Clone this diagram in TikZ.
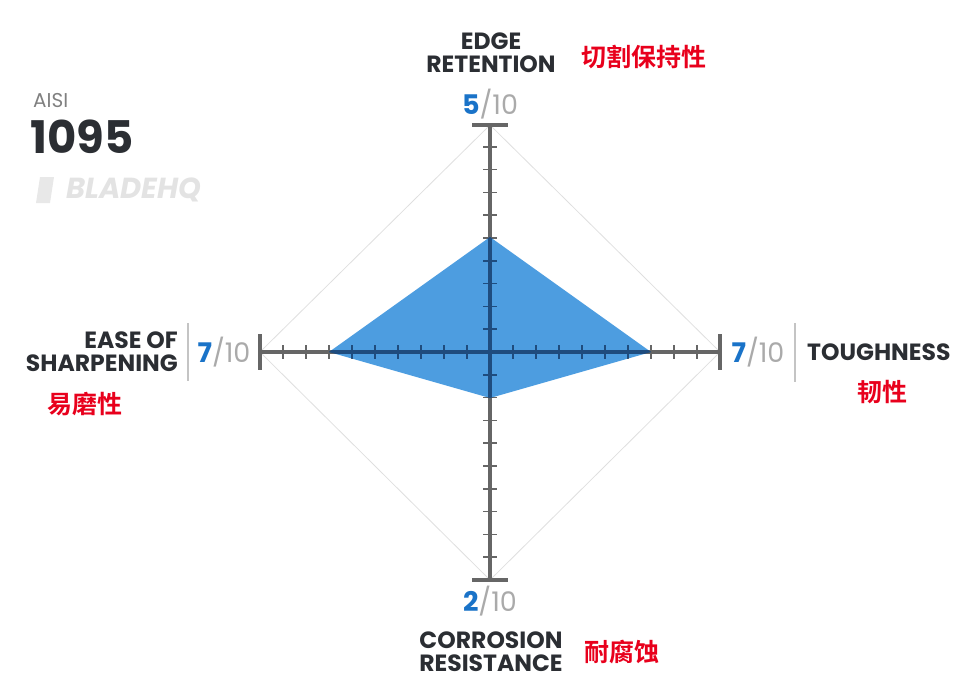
\documentclass[tikz,border=0pt]{standalone}
\usepackage{fontspec}
\setmainfont{Poppins}
\newfontfamily\cjk{Noto Sans CJK SC}[BoldFont={Noto Sans CJK SC Bold}]
\definecolor{txt}{HTML}{2B2E33}
\definecolor{axisc}{HTML}{666666}
\definecolor{fillc}{HTML}{4D9DE0}
\definecolor{inax}{HTML}{1F4C7E}
\definecolor{numb}{HTML}{1A73C8}
\definecolor{numg}{HTML}{AAAAAA}
\definecolor{redc}{HTML}{E8001C}
\begin{document}
\begin{tikzpicture}[x=1pt,y=-1pt,
  lab/.style={font=\bfseries\fontsize{23.5}{26}\selectfont,text=txt,align=center,inner sep=0},
  cn/.style={font=\cjk\bfseries\fontsize{25}{28}\selectfont,text=redc,inner sep=0},
  num/.style={font=\fontsize{27}{30}\selectfont,inner sep=0},
  ax/.style={line width=3.5pt,draw=axisc},
  tk/.style={line width=1.5pt,draw=axisc}]
\useasboundingbox (0,0) rectangle (972,694);
\coordinate (c) at (490,352);
\coordinate (t) at (490,125);
\coordinate (b) at (490,580);
\coordinate (l) at (260,352);
\coordinate (r) at (720,352);
\draw[gray!25,line width=0.8pt] (t)--(r)--(b)--(l)--cycle;
\coordinate (p1) at (490,237);
\coordinate (p2) at (651,352);
\coordinate (p3) at (490,398);
\coordinate (p4) at (329,352);
\fill[fillc] (p1)--(p2)--(p3)--(p4)--cycle;
\newcommand{\axesdraw}[2]{%
\draw[line width=3.5pt,draw=#1] (t)--(b) (l)--(r);
\draw[line width=3.5pt,draw=#1] (472,125)--(508,125) (472,580)--(508,580) (260,334)--(260,370) (720,334)--(720,370);
\foreach \i in {1,...,9}{%
 \draw[line width=1.5pt,draw=#1] (483,352-22.8*\i)--(497,352-22.8*\i) (483,352+22.8*\i)--(497,352+22.8*\i)
  (490-23*\i,345)--(490-23*\i,359) (490+23*\i,345)--(490+23*\i,359);}}
\axesdraw{axisc}{}
\begin{scope}
\clip (p1)--(p2)--(p3)--(p4)--cycle;
\axesdraw{inax}{}
\end{scope}
% labels
\node[lab] (et) at (491,53) {EDGE\\[-3pt]RETENTION};
\node[cn] (etc) at (644,57) {切割保持性};
\node[num] (n1) at (490,104) {\textcolor{numb}{\bfseries 5}\textcolor{numg}{/10}};
\node[num] (n3) at (490,601) {\textcolor{numb}{\bfseries 2}\textcolor{numg}{/10}};
\node[lab] (cr) at (491,652) {CORROSION\\[-3pt]RESISTANCE};
\node[cn] (crc) at (622,652) {耐腐蚀};
\node[lab,align=right,anchor=east] (es) at (178,352) {EASE OF\\[-3pt]SHARPENING};
\draw[numg!70,line width=1.5pt] (188,323)--(188,381);
\node[num] (n4) at (224,352) {\textcolor{numb}{\bfseries 7}\textcolor{numg}{/10}};
\node[cn] (esc) at (85,404) {易磨性};
\node[num] (n2) at (758,352) {\textcolor{numb}{\bfseries 7}\textcolor{numg}{/10}};
\draw[numg!70,line width=1.5pt] (795,323)--(795,382);
\node[lab,anchor=west] (tg) at (807,352) {TOUGHNESS};
\node[cn] (tgc) at (882,392) {韧性};
\node[anchor=west,inner sep=0,text=gray,font=\fontsize{20}{24}\selectfont] (aisi) at (33,101) {AISI};
\node[anchor=west,inner sep=0,text=txt,font=\bfseries\fontsize{45}{50}\selectfont] (steel) at (30,137) {1095};
\fill[gray!18] (40,177)--(54,177)--(50,203)--(36,203)--cycle;
\node[anchor=west,inner sep=0,text=gray!22,font=\bfseries\itshape\fontsize{29}{32}\selectfont] (bhq) at (66,190) {BLADEHQ};
\end{tikzpicture}
\end{document}
